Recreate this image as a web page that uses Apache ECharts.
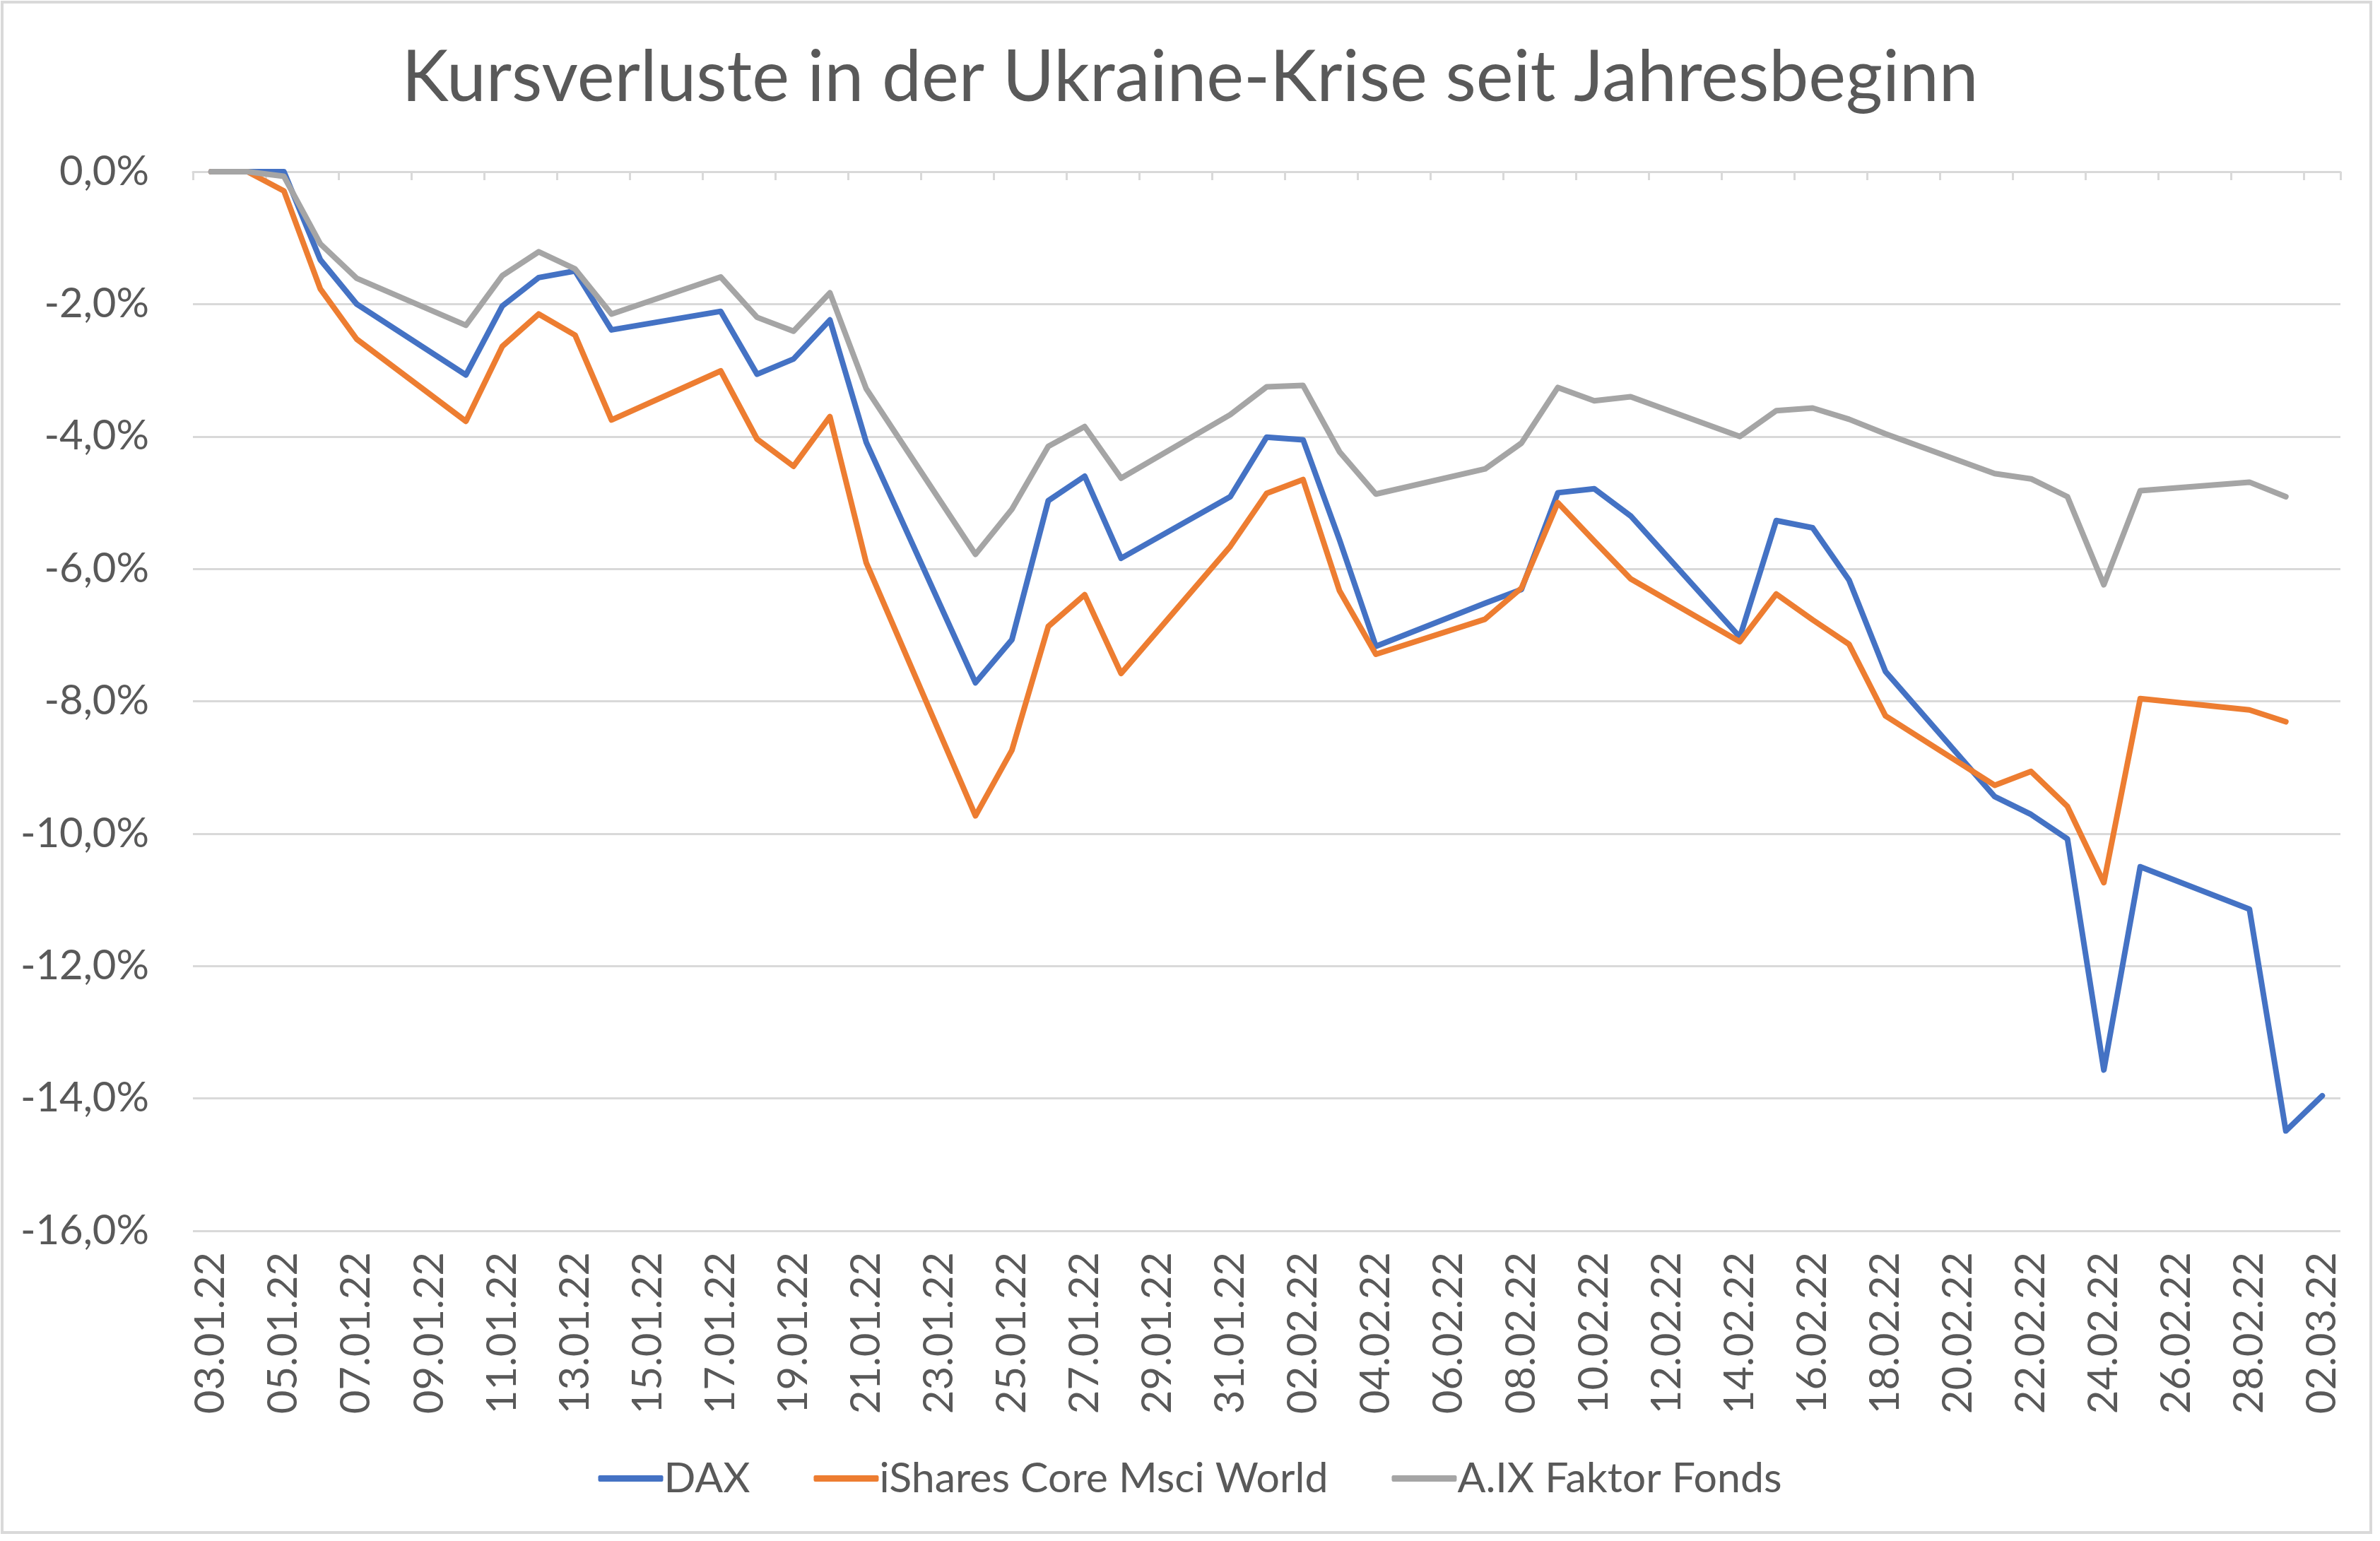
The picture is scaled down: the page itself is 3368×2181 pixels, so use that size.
<!DOCTYPE html>
<html>
<head>
<meta charset="utf-8">
<script src="https://cdn.jsdelivr.net/npm/echarts@6/dist/echarts.min.js"></script>
<style>
html,body{margin:0;padding:0;background:#fff;}
#chart{width:3368px;height:2181px;}
</style>
</head>
<body>
<div id="chart"></div>
<script>
const categories = [
 '03.01.22','04.01.22','05.01.22','06.01.22','07.01.22','08.01.22','09.01.22','10.01.22','11.01.22','12.01.22',
 '13.01.22','14.01.22','15.01.22','16.01.22','17.01.22','18.01.22','19.01.22','20.01.22','21.01.22','22.01.22',
 '23.01.22','24.01.22','25.01.22','26.01.22','27.01.22','28.01.22','29.01.22','30.01.22','31.01.22','01.02.22',
 '02.02.22','03.02.22','04.02.22','05.02.22','06.02.22','07.02.22','08.02.22','09.02.22','10.02.22','11.02.22',
 '12.02.22','13.02.22','14.02.22','15.02.22','16.02.22','17.02.22','18.02.22','19.02.22','20.02.22','21.02.22',
 '22.02.22','23.02.22','24.02.22','25.02.22','26.02.22','27.02.22','28.02.22','01.03.22','02.03.22'
];
const n = null;
// values in percent, null = no trading day (weekend)
const dax = [
 0, 0, 0, -1.33, -2.0, n, n, -3.07, -2.03, -1.6,
 -1.5, -2.39, n, n, -2.11, -3.06, -2.83, -2.24, -4.09, n,
 n, -7.72, -7.07, -4.97, -4.6, -5.84, n, n, -4.91, -4.01,
 -4.05, -5.56, -7.17, n, n, -6.52, -6.31, -4.85, -4.79, -5.2,
 n, n, -7.03, -5.27, -5.38, -6.17, -7.55, n, n, -9.44,
 -9.71, -10.08, -13.57, -10.5, n, n, -11.14, -14.49, -13.96
];
const ishares = [
 0, 0, -0.29, -1.77, -2.53, n, n, -3.77, -2.64, -2.15,
 -2.47, -3.75, n, n, -3.01, -4.04, -4.45, -3.7, -5.91, n,
 n, -9.73, -8.74, -6.87, -6.39, -7.58, n, n, -5.66, -4.86,
 -4.65, -6.33, -7.29, n, n, -6.76, -6.29, -5.0, -5.58, -6.15,
 n, n, -7.1, -6.38, -6.77, -7.14, -8.22, n, n, -9.27,
 -9.06, -9.59, -10.74, -7.96, n, n, -8.13, -8.31, n
];
const aix = [
 0, 0, -0.07, -1.09, -1.61, n, n, -2.32, -1.57, -1.21,
 -1.47, -2.15, n, n, -1.59, -2.2, -2.41, -1.83, -3.28, n,
 n, -5.78, -5.1, -4.15, -3.85, -4.63, n, n, -3.67, -3.25,
 -3.23, -4.23, -4.87, n, n, -4.49, -4.1, -3.26, -3.46, -3.4,
 n, n, -4.0, -3.61, -3.57, -3.74, -3.96, n, n, -4.56,
 -4.64, -4.91, -6.24, -4.82, n, n, -4.69, -4.91, n
];
const seriesNames = ['DAX', 'iShares Core Msci World', 'A.IX Faktor Fonds'];
const colors = ['#4472C4', '#ED7D31', '#A5A5A5'];

const FONT = 'Lato, "Open Sans", sans-serif';
const TXT = '#595959';
const GRIDC = '#d9d9d9';

const chart = echarts.init(document.getElementById('chart'), null, {renderer: 'canvas'});
const mkSeries = (name, data, i) => ({
  name: name, type: 'line', data: data, xAxisIndex: 0,
  connectNulls: true, showSymbol: false, symbol: 'none',
  lineStyle: {color: colors[i], width: 8, join: 'round', cap: 'round'},
  itemStyle: {color: colors[i]},
  animation: false
});
chart.setOption({
  animation: false,
  backgroundColor: '#fff',
  title: {
    text: 'Kursverluste in der Ukraine-Krise seit Jahresbeginn',
    left: 'center', top: 56,
    textStyle: {fontFamily: FONT, fontSize: 100, fontWeight: 'normal', color: TXT}
  },
  legend: {
    data: seriesNames.map(s => ({name: s, icon: 'roundRect'})),
    left: 'center', top: 2058,
    itemWidth: 92, itemHeight: 9, itemGap: 90,
    textStyle: {fontFamily: FONT, fontSize: 59, color: TXT, padding: [0, 0, 0, -4]}
  },
  grid: {left: 273, right: 56, top: 243, bottom: 439, containLabel: false},
  xAxis: [
    {
      type: 'category', data: categories, position: 'bottom', boundaryGap: true,
      axisLine: {show: false, onZero: false}, axisTick: {show: false},
      axisLabel: {interval: 1, rotate: 90, margin: 30, fontFamily: FONT, fontSize: 58, color: TXT},
      splitLine: {show: false}
    },
    {
      type: 'category', data: categories, position: 'top', boundaryGap: true,
      axisLine: {show: true, onZero: false, lineStyle: {color: GRIDC, width: 3}},
      axisTick: {show: true, inside: true, length: 12, interval: 1, lineStyle: {color: GRIDC, width: 3}},
      axisLabel: {show: false},
      splitLine: {show: false}
    }
  ],
  yAxis: {
    type: 'value', min: -16, max: 0, interval: 2,
    axisLine: {show: false}, axisTick: {show: false},
    splitLine: {lineStyle: {color: GRIDC, width: 3}},
    axisLabel: {
      margin: 62, fontFamily: FONT, fontSize: 58, color: TXT,
      formatter: v => v.toFixed(1).replace('.', ',') + '%'
    }
  },
  series: [mkSeries(seriesNames[0], dax, 0), mkSeries(seriesNames[1], ishares, 1), mkSeries(seriesNames[2], aix, 2)],
  graphic: [{
    type: 'rect', silent: true, z: -1,
    shape: {x: 3, y: 3, width: 3352, height: 2166},
    style: {fill: 'none', stroke: GRIDC, lineWidth: 4}
  }]
});
</script>
</body>
</html>
